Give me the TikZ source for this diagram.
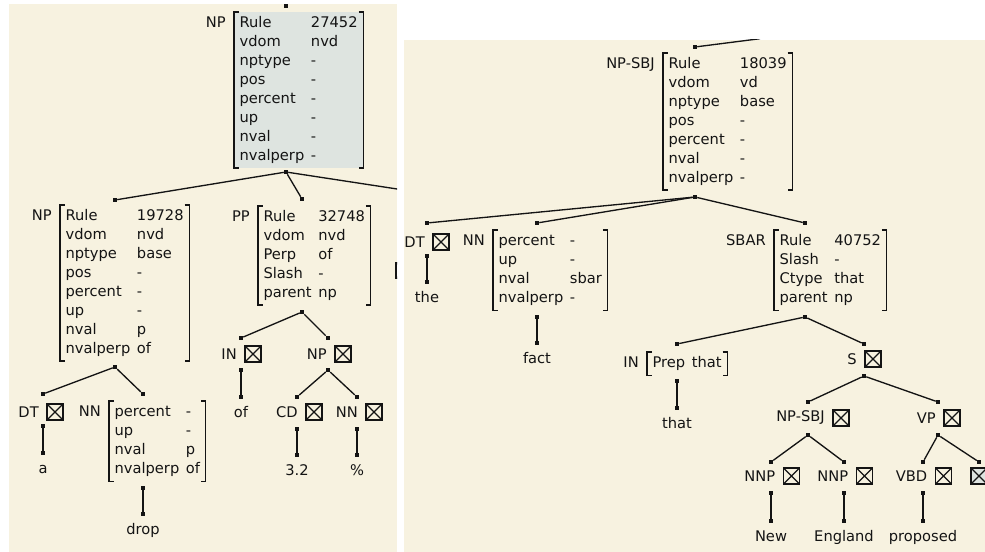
\documentclass[tikz,border=0pt]{standalone}
\usepackage{fontspec}
\setmainfont{DejaVu Sans}
\usetikzlibrary{positioning}
\definecolor{panel}{RGB}{247,242,224}
\definecolor{selgray}{RGB}{222,228,224}
\definecolor{ink}{RGB}{20,20,20}
\newcommand{\feats}[1]{\begin{tabular}{@{}l@{\hspace{5pt}}l@{}}#1\end{tabular}}

\begin{document}
\begin{tikzpicture}[x=0.75pt, y=-0.75pt,
			font=\fontsize{11}{14.2}\selectfont, text=ink,
			avm/.style={anchor=north west, inner xsep=4pt, inner ysep=1.5pt},
			bracket/.style={draw=ink, line width=1.1pt},
			cat/.style={inner sep=0pt},
			avmcat/.style={cat, anchor=north east},
			xbox/.style={draw=ink, line width=1pt, minimum size=12pt, inner sep=0pt,
				path picture={\draw[ink, line width=0.9pt]
					(path picture bounding box.north west) -- (path picture bounding box.south east)
					(path picture bounding box.north east) -- (path picture bounding box.south west);}},
			dot/.style={fill=ink, inner sep=0pt, minimum size=3pt},
			branch/.style={draw=ink, line width=1pt},
			word/.style={anchor=base, inner sep=0pt}
			]
		\useasboundingbox (0,0) rectangle (985,552);
		\fill[panel] (9,4) rectangle (397,552);
		\fill[panel] (404,40) rectangle (985,552);

		% left tree
		\begin{scope}
			\clip (9,0) rectangle (397,552);
			\node[avm, fill=selgray] (np) at (234,12) {\feats{Rule & 27452\\ vdom & nvd\\ nptype & -\\ pos & -\\ percent & -\\ up & -\\ nval & -\\ nvalperp & -}};
			\node[avmcat] (np-t) at ([shift={(-6pt,-1.5pt)}]np.north west) {\strut NP};
			\node[avm] (np2) at (60,205) {\feats{Rule & 19728\\ vdom & nvd\\ nptype & base\\ pos & -\\ percent & -\\ up & -\\ nval & p\\ nvalperp & of}};
			\node[avmcat] (np2-t) at ([shift={(-6pt,-1.5pt)}]np2.north west) {\strut NP};
			\node[avm] (pp) at (258,206) {\feats{Rule & 32748\\ vdom & nvd\\ Perp & of\\ Slash & -\\ parent & np}};
			\node[avmcat] (pp-t) at ([shift={(-6pt,-1.5pt)}]pp.north west) {\strut PP};
			\node[avm] (nn) at (109,401) {\feats{percent & -\\ up & -\\ nval & p\\ nvalperp & of}};
			\node[avmcat] (nn-t) at ([shift={(-6pt,-1.5pt)}]nn.north west) {\strut NN};

			\node[xbox] (dt) at (55,412) {};
			\node[cat, left=5.5pt of dt] (dt-t) {DT};
			\node[xbox] (in) at (253,354) {};
			\node[cat, left=5.5pt of in] (in-t) {IN};
			\node[xbox] (np3) at (343,354) {};
			\node[cat, left=5.5pt of np3] (np3-t) {NP};
			\node[xbox] (cd) at (314,412) {};
			\node[cat, left=5.5pt of cd] (cd-t) {CD};
			\node[xbox] (nn2) at (374,412) {};
			\node[cat, left=5.5pt of nn2] (nn2-t) {NN};
			\node[xbox] (hx) at (404,270.5) {};

			\node[word] (a) at (43,473) {a};
			\node[word] (drop) at (143,534) {drop};
			\node[word] (of) at (241,417) {of};
			\node[word] (num) at (297,475) {3.2};
			\node[word] (pct) at (357,475) {\%};

			\foreach \n/\x/\y in {np-n/286/6, np-s/286/172, np2-n/115/200, np2-s/115/367,
					pp-n/302/199, pp-s/302/312, dt-n/43/394, dt-s/43/426, a-n/43/453,
					nn-n/143/394, nn-s/143/488, drop-n/143/514, in-n/241/338, in-s/241/370,
					of-n/241/397, np3-n/328/338, np3-s/328/370, cd-n/297/397, cd-s/297/429,
					num-n/297/455, nn2-n/357/397, nn2-s/357/429, pct-n/357/455}
				\node[dot] (\n) at (\x,\y) {};
			\coordinate (np-r) at (420,192.5);

			\foreach \a/\b in {np-s/np2-n, np-s/pp-n, np-s/np-r, np2-s/dt-n, np2-s/nn-n,
					dt-s/a-n, nn-s/drop-n, pp-s/in-n, pp-s/np3-n, in-s/of-n, np3-s/cd-n,
					np3-s/nn2-n, cd-s/num-n, nn2-s/pct-n}
				\draw[branch] (\a) -- (\b);

			\foreach \n in {np,np2,pp,nn}
				\draw[bracket] ([xshift=3.5pt]\n.north west) -| (\n.south west) -- ++(3.5pt,0)
					([xshift=-3.5pt]\n.north east) -| (\n.south east) -- ++(-3.5pt,0);
		\end{scope}

		% right tree
		\begin{scope}
			\clip (404,40) rectangle (985,552);
			\node[avm] (sbj) at (663,53) {\feats{Rule & 18039\\ vdom & vd\\ nptype & base\\ pos & -\\ percent & -\\ nval & -\\ nvalperp & -}};
			\node[avmcat] (sbj-t) at ([shift={(-6pt,-1.5pt)}]sbj.north west) {\strut NP-SBJ};
			\node[avm] (nn3) at (493,230) {\feats{percent & -\\ up & -\\ nval & sbar\\ nvalperp & -}};
			\node[avmcat] (nn3-t) at ([shift={(-6pt,-1.5pt)}]nn3.north west) {\strut NN};
			\node[avm] (sbar) at (774,230) {\feats{Rule & 40752\\ Slash & -\\ Ctype & that\\ parent & np}};
			\node[avmcat] (sbar-t) at ([shift={(-6pt,-1.5pt)}]sbar.north west) {\strut SBAR};
			\node[avm] (in2) at (647,352) {\feats{Prep & that}};
			\node[avmcat] (in2-t) at ([shift={(-6pt,-1.5pt)}]in2.north west) {\strut IN};

			\node[xbox] (dt2) at (441,242) {};
			\node[cat, left=5.5pt of dt2] (dt2-t) {DT};
			\node[xbox] (s) at (873,359) {};
			\node[cat, left=5.5pt of s] (s-t) {S};
			\node[xbox] (sbj2) at (841,418) {};
			\node[cat, left=5.5pt of sbj2] (sbj2-t) {NP-SBJ};
			\node[xbox] (vp) at (952,418) {};
			\node[cat, left=5.5pt of vp] (vp-t) {VP};
			\node[xbox] (nnp) at (791.5,476) {};
			\node[cat, left=5.5pt of nnp] (nnp-t) {NNP};
			\node[xbox] (nnp2) at (864.5,476) {};
			\node[cat, left=5.5pt of nnp2] (nnp2-t) {NNP};
			\node[xbox] (vbd) at (943.5,476) {};
			\node[cat, left=5.5pt of vbd] (vbd-t) {VBD};
			\node[xbox, fill=selgray] (vx) at (979,476) {};

			\node[word] (the) at (427,302) {the};
			\node[word] (fact) at (537,363) {fact};
			\node[word] (that) at (677,428) {that};
			\node[word] (new) at (771,541) {New};
			\node[word] (eng) at (844,541) {England};
			\node[word] (prop) at (923,541) {proposed};

			\foreach \n/\x/\y in {sbj-n/695/47, sbj-s/695/197, dt2-n/427/223, dt2-s/427/256,
					the-n/427/282, nn3-n/537/223, nn3-s/537/317, fact-n/537/343,
					sbar-n/805/223, sbar-s/805/317, in2-n/677/344, in2-s/677/381,
					that-n/677/408, s-n/864/344, s-s/864/376, sbj2-n/808/402, sbj2-s/808/435,
					vp-n/938/402, vp-s/938/435, nnp-n/771/462, nnp-s/771/493, new-n/771/521,
					nnp2-n/844/462, nnp2-s/844/493, eng-n/844/521, vbd-n/923/462,
					vbd-s/923/493, prop-n/923/521, vx-n/979/462}
				\node[dot] (\n) at (\x,\y) {};
			\coordinate (sbj-u) at (760,38.7);

			\foreach \a/\b in {sbj-u/sbj-n, sbj-s/dt2-n, sbj-s/nn3-n, sbj-s/sbar-n,
					dt2-s/the-n, nn3-s/fact-n, sbar-s/in2-n, sbar-s/s-n, in2-s/that-n,
					s-s/sbj2-n, s-s/vp-n, sbj2-s/nnp-n, sbj2-s/nnp2-n, vp-s/vbd-n,
					vp-s/vx-n, nnp-s/new-n, nnp2-s/eng-n, vbd-s/prop-n}
				\draw[branch] (\a) -- (\b);

			\foreach \n in {sbj,nn3,sbar,in2}
				\draw[bracket] ([xshift=3.5pt]\n.north west) -| (\n.south west) -- ++(3.5pt,0)
					([xshift=-3.5pt]\n.north east) -| (\n.south east) -- ++(-3.5pt,0);
		\end{scope}
	\end{tikzpicture}
\end{document}
